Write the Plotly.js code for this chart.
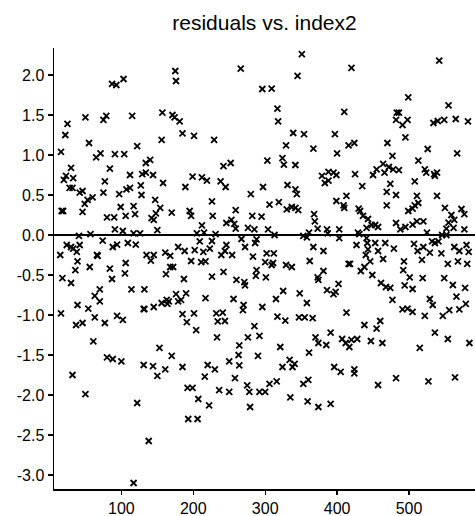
<!DOCTYPE html>
<html>
<head>
<meta charset="utf-8">
<script src="https://cdn.plot.ly/plotly-3.0.1.min.js"></script>
<style>html,body{margin:0;padding:0;background:#fff;}#chart{width:475px;height:516px;}</style>
</head>
<body>
<div id="chart"></div>
<script>
// index2 values (x) and residuals (y)
const index2 = [
16,22,25,17,19,20,23,30,33,28,32,42,46,46,49,53,50,55,60,65,71,75,79,77,75,84,80,90,87,93,103,91,104,97,99,91,102,106,107,112,112,115,117,119,117,126,122,127,128,134,140,129,134,144,147,142,145,148,150,
15,24,30,33,38,42,41,57,66,67,74,88,94,109,120,135,145,39,106,141,18,30,36,56,84,87,105,114,132,70,63,70,39,54,16,63,37,46,77,94,102,131,132,145,61,80,88,100,131,144,150,32,50,122,138,117,153,
351,175,176,266,345,296,309,157,171,174,181,317,318,156,185,201,229,339,354,329,367,303,324,326,342,242,252,199,212,219,158,189,238,245,297,331,342,344,280,226,306,319,330,337,342,346,154,170,195,197,227,259,282,295,368,369,373,212,205,215,231,246,253,257,259,276,285,304,313,353,358,361,
209,226,267,288,286,179,188,202,214,223,246,244,272,367,161,168,239,254,283,302,312,
197,211,217,168,172,162,187,226,242,260,271,272,288,287,301,300,309,311,329,337,362,373,374,176,190,156,163,164,166,179,183,217,256,270,269,296,315,325,348,358,185,201,191,204,232,241,234,244,285,317,328,347,355,366,233,276,292,370,374,170,264,263,264,250,290,321,361,334,341,338,324,161,185,220,230,216,258,192,199,207,222,236,250,275,278,279,292,300,306,316,335,353,360,359,374,193,206,
420,542,499,555,410,483,486,482,491,498,534,540,549,565,582,397,495,416,424,400,470,477,526,567,513,379,388,383,388,395,399,425,435,450,455,464,472,478,486,466,474,469,482,508,522,524,535,539,536,511,539,399,413,409,410,469,499,505,508,513,430,432,436,443,453,457,448,550,573,577,559,563,555,482,488,495,505,511,520,441,429,431,403,386,387,562,552,577,525,546,552,
403,427,441,442,381,453,467,479,443,457,440,507,512,520,529,536,541,532,545,563,570,580,583,
416,418,446,438,433,464,381,402,386,395,398,449,461,468,474,477,493,492,501,494,505,518,519,549,568,581,554,561,578,566,579,570,522,529,533,491,498,505,547,556,413,438,455,460,391,407,412,417,420,428,447,463,515,536,554,584,385,405,424,424,457,482,527,564,396,391
];
const residuals = [
1.04,1.25,1.39,0.30,0.30,0.69,0.74,0.84,0.71,0.59,0.59,0.53,0.55,0.29,0.39,0.44,1.47,1.15,0.47,0.97,1.02,1.44,1.49,0.67,0.53,0.83,0.22,0.22,1.89,1.875,1.95,1.01,1.01,0.51,0.35,0.07,0.05,0.24,0.57,0.59,0.75,1.49,0.36,0.26,0.02,0.02,1.11,0.62,0.50,0.90,0.94,0.76,0.78,0.75,0.44,0.21,0.19,0.27,0.06,
-0.25,-0.125,-0.15,-0.17,-0.21,-0.125,-0.01,0.01,-0.25,-0.26,-0.07,-0.15,-0.12,-0.10,-0.12,-0.25,-0.25,-0.33,-0.35,-0.32,-0.54,-0.60,-0.44,-0.40,-0.42,-0.55,-0.48,-0.68,-0.68,-0.68,-0.76,-0.83,-0.875,-0.92,-0.98,-1.03,-1.125,-1.10,-1.10,-1.01,-1.06,-0.925,-0.925,-0.90,-1.33,-1.53,-1.55,-1.58,-1.625,-1.64,-1.76,-1.75,-1.99,-2.10,-2.575,-3.10,-1.41,
2.26,2.05,1.925,2.08,1.99,1.825,1.83,1.53,1.50,1.47,1.42,1.58,1.42,1.19,1.27,1.24,1.19,1.275,1.26,1.12,1.08,0.93,0.96,0.88,0.875,0.86,0.90,0.73,0.72,0.68,0.65,0.60,0.67,0.60,0.60,0.625,0.57,0.51,0.51,0.42,0.38,0.41,0.32,0.35,0.34,0.31,0.34,0.28,0.30,0.24,0.24,0.31,0.24,0.23,0.26,0.17,0.08,0.12,0.02,0.03,0.01,0.15,0.19,0.14,0.08,0.09,0.07,0.07,0.00,-0.01,-0.03,0.03,
-0.08,-0.075,-0.05,-0.055,-0.10,-0.15,-0.20,-0.19,-0.21,-0.17,-0.125,-0.20,-0.15,-0.15,-0.22,-0.26,-0.25,-0.25,-0.27,-0.23,-0.23,
-0.325,-0.34,-0.33,-0.40,-0.40,-0.49,-0.55,-0.52,-0.46,-0.56,-0.59,-0.63,-0.44,-0.51,-0.53,-0.34,-0.375,-0.35,-0.375,-0.40,-0.325,-0.53,-0.56,-0.74,-0.73,-0.85,-0.81,-0.86,-0.83,-0.83,-0.81,-0.79,-0.80,-0.875,-0.94,-0.90,-0.80,-0.70,-0.73,-0.85,-0.99,-0.98,-1.09,-1.19,-0.98,-0.97,-1.08,-1.075,-1.14,-1.02,-1.07,-1.03,-1.03,-1.04,-1.28,-1.28,-1.26,-1.28,-1.35,-1.51,-1.38,-1.50,-1.63,-1.58,-1.51,-1.40,-1.47,-1.56,-1.61,-1.65,-1.65,-1.68,-1.65,-1.625,-1.68,-1.77,-1.79,-1.91,-1.91,-2.05,-2.13,-1.94,-1.96,-1.88,-1.96,-2.15,-1.96,-1.96,-1.86,-1.83,-2.03,-1.86,-1.81,-2.08,-2.15,-2.30,-2.30,
2.09,2.18,1.72,1.62,1.54,1.53,1.53,1.44,1.375,1.44,1.40,1.425,1.44,1.45,1.42,1.26,1.22,1.12,1.15,1.02,1.15,0.99,1.075,1.02,0.93,0.74,0.79,0.65,0.68,0.78,0.75,0.76,0.61,0.75,0.82,0.89,0.85,0.82,0.81,0.78,0.64,0.54,0.50,0.67,0.82,0.78,0.76,0.78,0.74,0.49,0.49,0.425,0.49,0.37,0.34,0.37,0.30,0.33,0.37,0.40,0.33,0.30,0.24,0.20,0.125,0.10,0.125,0.34,0.325,0.26,0.25,0.19,0.155,0.15,0.07,0.10,0.13,0.17,0.17,0.09,0.03,0.01,0.07,0.07,0.02,0.09,0.08,0.07,0.03,0.00,0.00,
-0.04,-0.125,-0.04,-0.10,-0.20,-0.10,-0.10,-0.17,-0.18,-0.20,-0.25,-0.11,-0.20,-0.15,-0.22,-0.10,-0.08,-0.08,-0.23,-0.15,-0.20,-0.125,-0.21,
-0.36,-0.36,-0.33,-0.40,-0.45,-0.30,-0.45,-0.61,-0.69,-0.74,-0.71,-0.50,-0.60,-0.65,-0.66,-0.81,-0.33,-0.44,-0.53,-0.63,-0.675,-0.31,-0.54,-0.54,-0.33,-0.36,-0.36,-0.625,-0.66,-0.77,-0.86,-0.93,-1.01,-0.80,-0.875,-0.93,-0.92,-0.96,-1.01,-0.94,-0.97,-1.125,-1.17,-1.075,-1.22,-1.30,-1.35,-1.40,-1.31,-1.30,-1.325,-1.35,-1.41,-1.22,-1.30,-1.35,-1.375,-1.71,-1.73,-1.68,-1.875,-1.79,-1.83,-1.78,-1.65,-2.11,-2.33
];
const xTickVals = [100, 200, 300, 400, 500];
const yTickVals = [-3.0, -2.5, -2.0, -1.5, -1.0, -0.5, 0.0, 0.5, 1.0, 1.5, 2.0];
const chartTitle = 'residuals vs. index2';

const font = 'Liberation Sans, Arial, Helvetica, sans-serif';
const trace = {
  x: index2, y: residuals, type: 'scatter', mode: 'markers',
  marker: {symbol: 'x-thin-open', size: 6, color: '#000', line: {color: '#000', width: 1.8}},
  hoverinfo: 'none', cliponaxis: false
};
const layout = {
  width: 475, height: 516,
  margin: {l: 54, r: 0, t: 48, b: 27, pad: 0},
  paper_bgcolor: '#fff', plot_bgcolor: '#fff',
  showlegend: false,
  font: {family: font, color: '#000', size: 16},
  title: {text: chartTitle, x: 0.5, xref: 'paper', xanchor: 'center',
          y: 1 - 23/516, yref: 'container', yanchor: 'middle',
          font: {family: font, size: 21, color: '#000'}},
  xaxis: {range: [6.3, 591.8], tickvals: xTickVals, ticktext: xTickVals.map(String),
          ticks: 'outside', ticklen: 4, tickwidth: 1.2, tickcolor: '#000',
          showline: true, linecolor: '#000', linewidth: 1.5, showgrid: false, zeroline: false,
          tickfont: {family: font, size: 16, color: '#000'}, automargin: false},
  yaxis: {range: [-3.175, 2.3375], tickvals: yTickVals, ticktext: yTickVals.map(v => v.toFixed(1)),
          ticks: 'outside', ticklen: 5, tickwidth: 1.2, tickcolor: '#000',
          showline: true, linecolor: '#000', linewidth: 1.5, showgrid: false,
          zeroline: true, zerolinecolor: '#000', zerolinewidth: 1.5,
          tickfont: {family: font, size: 16, color: '#000'}, automargin: false}
};
Plotly.newPlot('chart', [trace], layout, {staticPlot: true, displayModeBar: false});
</script>
</body>
</html>
